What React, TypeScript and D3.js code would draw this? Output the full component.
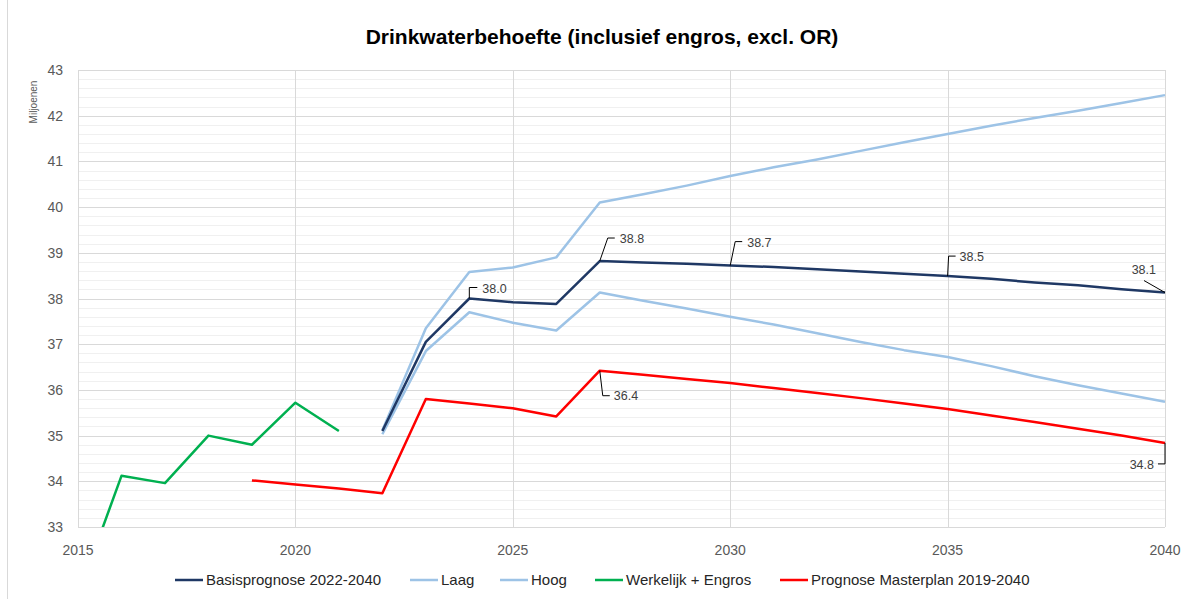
import React, { useEffect, useRef } from 'react';
import * as d3 from 'd3';

// chart values
const years = d3.range(2022, 2041);
const basis = [35.1, 37.05, 38.0, 37.92, 37.88, 38.82, 38.79, 38.76, 38.72, 38.69, 38.64, 38.59, 38.54, 38.49, 38.43, 38.35, 38.29, 38.2, 38.13];
const laag = [35.03, 36.85, 37.7, 37.47, 37.3, 38.13, 37.95, 37.78, 37.6, 37.43, 37.24, 37.05, 36.87, 36.72, 36.52, 36.3, 36.1, 35.92, 35.74];
const hoog = [35.12, 37.35, 38.58, 38.68, 38.9, 40.1, 40.28, 40.47, 40.68, 40.87, 41.04, 41.23, 41.42, 41.6, 41.78, 41.95, 42.11, 42.28, 42.45];
const werkelijkYears = [2015, 2016, 2017, 2018, 2019, 2020, 2021];
const werkelijk = [31.5, 34.12, 33.96, 35.0, 34.8, 35.72, 35.1];
const masterplanYears = d3.range(2019, 2041);
const masterplan = [34.02, 33.93, 33.84, 33.74, 35.8, 35.7, 35.6, 35.42, 36.42, 36.33, 36.24, 36.15, 36.04, 35.93, 35.82, 35.7, 35.58, 35.44, 35.3, 35.15, 35.0, 34.84];

const xTicks = [2015, 2020, 2025, 2030, 2035, 2040];
const yTicks = d3.range(33, 44);

const title = 'Drinkwaterbehoefte (inclusief engros, excl. OR)';
const yTitle = 'Miljoenen';

type Pt = [number, number];

const App = () => {
  const svgRef = useRef<SVGSVGElement>(null);

  useEffect(() => {
    const width = 1187;
    const height = 599;
    const margin = { left: 78, right: 22, top: 70, bottom: 72 };
    const font = 'Liberation Sans, Arial, sans-serif';

    const svg = d3.select(svgRef.current);
    svg.selectAll('*').remove();
    svg.attr('width', width).attr('height', height);

    const x = d3.scaleLinear().domain([2015, 2040]).range([margin.left, width - margin.right]);
    const y = d3.scaleLinear().domain([33, 43]).range([height - margin.bottom, margin.top]);

    // left edge of the chart frame
    svg.append('line')
      .attr('x1', 7.5).attr('x2', 7.5).attr('y1', 0).attr('y2', height)
      .attr('stroke', '#d9d9d9');

    svg.append('defs').append('clipPath').attr('id', 'plot-clip')
      .append('rect')
      .attr('x', x(2015)).attr('y', y(43) - 2)
      .attr('width', x(2040) - x(2015) + 2).attr('height', y(33) - y(43) + 2);

    // minor gridlines (0.2 steps)
    const minor = d3.range(33, 43.001, 0.2).filter(v => Math.abs(v - Math.round(v)) > 0.01);
    svg.append('g').selectAll('line').data(minor).enter().append('line')
      .attr('x1', x(2015)).attr('x2', x(2040))
      .attr('y1', d => Math.round(y(d)) + 0.5).attr('y2', d => Math.round(y(d)) + 0.5)
      .attr('stroke', '#f0f0f0').attr('stroke-width', 1);

    // major gridlines
    svg.append('g').selectAll('line').data(yTicks).enter().append('line')
      .attr('x1', x(2015)).attr('x2', x(2040))
      .attr('y1', d => Math.round(y(d)) + 0.5).attr('y2', d => Math.round(y(d)) + 0.5)
      .attr('stroke', '#d9d9d9').attr('stroke-width', 1);
    svg.append('g').selectAll('line').data(xTicks).enter().append('line')
      .attr('x1', d => Math.round(x(d)) + 0.5).attr('x2', d => Math.round(x(d)) + 0.5)
      .attr('y1', y(43)).attr('y2', y(33))
      .attr('stroke', '#d9d9d9').attr('stroke-width', 1);

    // tick labels
    svg.append('g').selectAll('text').data(yTicks).enter().append('text')
      .attr('x', 63).attr('y', d => y(d)).attr('dy', '0.36em')
      .attr('text-anchor', 'end')
      .attr('font-family', font).attr('font-size', 14)
      .attr('fill', '#595959')
      .text(d => d);
    svg.append('g').selectAll('text').data(xTicks).enter().append('text')
      .attr('x', d => x(d)).attr('y', 555)
      .attr('text-anchor', 'middle')
      .attr('font-family', font).attr('font-size', 14)
      .attr('fill', '#595959')
      .text(d => d);

    svg.append('text')
      .attr('transform', 'translate(37,102) rotate(-90)')
      .attr('text-anchor', 'middle')
      .attr('font-family', font).attr('font-size', 10)
      .attr('fill', '#595959')
      .text(yTitle);

    svg.append('text')
      .attr('x', 602).attr('y', 44)
      .attr('text-anchor', 'middle')
      .attr('font-family', font).attr('font-size', 21)
      .attr('font-weight', 'bold').attr('fill', '#000')
      .text(title);

    // series
    const line = d3.line<Pt>().x(d => x(d[0])).y(d => y(d[1]));
    const series = [
      { name: 'Basisprognose 2022-2040', color: '#1f3864', pts: years.map((yr, i) => [yr, basis[i]] as Pt) },
      { name: 'Laag', color: '#9dc3e6', pts: years.map((yr, i) => [yr, laag[i]] as Pt) },
      { name: 'Hoog', color: '#9dc3e6', pts: years.map((yr, i) => [yr, hoog[i]] as Pt) },
      { name: 'Werkelijk + Engros', color: '#00b050', pts: werkelijkYears.map((yr, i) => [yr, werkelijk[i]] as Pt) },
      { name: 'Prognose Masterplan 2019-2040', color: '#ff0000', pts: masterplanYears.map((yr, i) => [yr, masterplan[i]] as Pt) },
    ];
    const drawOrder = [1, 2, 0, 3, 4];
    const lines = svg.append('g').attr('clip-path', 'url(#plot-clip)');
    drawOrder.forEach(i => {
      lines.append('path')
        .attr('d', line(series[i].pts))
        .attr('fill', 'none')
        .attr('stroke', series[i].color)
        .attr('stroke-width', 2.5)
        .attr('stroke-linejoin', 'round');
    });

    // data labels with leader lines
    const labels: { s: number; yr: number; leader: Pt[]; tx: number; ty: number; anchor: string }[] = [
      { s: 0, yr: 2024, leader: [[0, 0], [0, -11], [8, -11]], tx: 13, ty: -6, anchor: 'start' },
      { s: 0, yr: 2027, leader: [[0, 0], [8, -23], [15, -23]], tx: 20, ty: -18, anchor: 'start' },
      { s: 0, yr: 2030, leader: [[0, 0], [5, -24], [12, -24]], tx: 17, ty: -19, anchor: 'start' },
      { s: 0, yr: 2035, leader: [[0, 0], [1, -20], [8, -20]], tx: 12, ty: -15, anchor: 'start' },
      { s: 0, yr: 2040, leader: [[0, 0], [-21, -12]], tx: -9, ty: -19, anchor: 'end' },
      { s: 4, yr: 2027, leader: [[0, 0], [3, 25], [10, 25]], tx: 14, ty: 29, anchor: 'start' },
      { s: 4, yr: 2040, leader: [[0, 0], [0, 21], [-7, 21]], tx: -11, ty: 26, anchor: 'end' },
    ];
    const lg = svg.append('g');
    labels.forEach(l => {
      const p = series[l.s].pts.find(d => d[0] === l.yr)!;
      const px = x(p[0]);
      const py = y(p[1]);
      lg.append('path')
        .attr('d', d3.line()(l.leader.map(o => [px + o[0], py + o[1]] as Pt)))
        .attr('fill', 'none').attr('stroke', '#000').attr('stroke-width', 1);
      lg.append('text')
        .attr('x', px + l.tx).attr('y', py + l.ty)
        .attr('text-anchor', l.anchor)
        .attr('font-family', font).attr('font-size', 12.5)
        .attr('fill', '#404040')
        .text(p[1].toFixed(1));
    });

    // legend
    const legendX = [175, 410, 500, 595, 780];
    const legend = svg.append('g');
    series.forEach((s, i) => {
      const g = legend.append('g').attr('transform', `translate(${legendX[i]},580)`);
      g.append('line').attr('x1', 0).attr('x2', 28).attr('y1', 0).attr('y2', 0)
        .attr('stroke', s.color).attr('stroke-width', 2.5);
      g.append('text').attr('x', 31).attr('y', 0).attr('dy', '0.36em')
        .attr('font-family', font).attr('font-size', 15)
        .attr('fill', '#262626')
        .text(s.name);
    });
  }, []);

  return (
    <svg ref={svgRef} style={{ position: 'absolute', left: 0, top: 0, display: 'block' }}></svg>
  );
};

export default App;
